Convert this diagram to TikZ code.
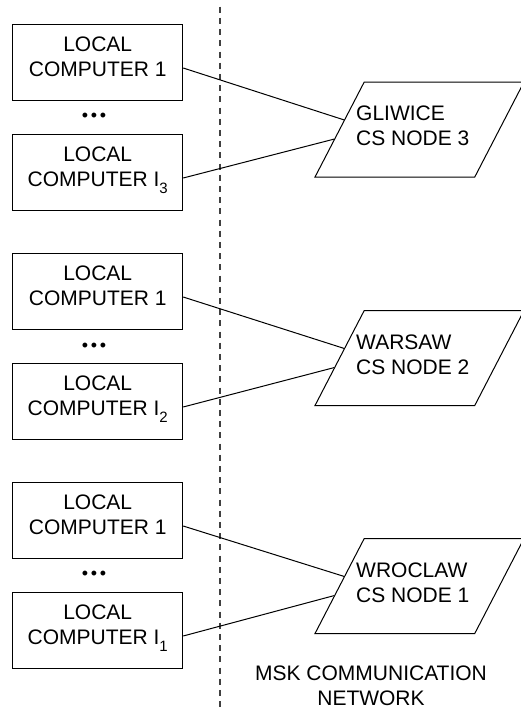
\documentclass[tikz,border=0pt]{standalone}
\usepackage{fontspec}
\setmainfont{Liberation Sans}
\usetikzlibrary{shapes.geometric,calc}

% extra depth below the last line so the two-line labels sit a little high in their boxes
\newcommand{\lowpad}{\rule[-11pt]{0pt}{11pt}}
\newcommand{\sub}[1]{\raisebox{-7pt}{\fontsize{15}{15}\selectfont #1}}

\begin{document}
\begin{tikzpicture}[x=1pt,y=-1pt,
  every node/.style={font=\fontsize{21}{25}\selectfont},
  pc/.style={draw, line width=1pt, minimum width=170pt, minimum height=76pt,
    inner sep=0pt, align=center},
  csnode/.style={draw, line width=1pt, trapezium, trapezium left angle=66,
    trapezium right angle=114, trapezium stretches=true,
    minimum width=209pt, minimum height=95pt, inner sep=2pt},
  cslabel/.style={anchor=west, align=left, inner sep=0pt},
  dots/.style={inner sep=0pt, font=\fontsize{18}{18}\selectfont},
  link/.style={line width=1pt},
  boundary/.style={line width=1.3pt, draw=black!75, dash pattern=on 6pt off 5.2pt}
]
\useasboundingbox (0,0) rectangle (520,710);

% network boundary
\coordinate (bndtop) at (220,6.7);
\coordinate (bndbot) at (220,710);
\draw[boundary] (bndtop) -- (bndbot);

% Gliwice
\node[pc] (a3) at (97.7,62)  {LOCAL\\COMPUTER 1\lowpad};
\node[dots] (d3) at (94,117) {•\kern2.7pt•\kern2.7pt•};
\node[pc] (b3) at (97.7,172) {LOCAL\\COMPUTER I\sub{3}\lowpad};
\node[csnode] (n3) at (419.5,129.5) {};
\node[cslabel] (t3) at (356,126) {GLIWICE\\CS NODE 3};
\draw[link] ([yshift=-6pt]a3.east) -- ($(n3.bottom left corner)!0.6!(n3.top left corner)$);
\draw[link] ([yshift=-6pt]b3.east) -- ($(n3.bottom left corner)!0.4!(n3.top left corner)$);

% Warsaw
\node[pc] (a2) at (97.7,291) {LOCAL\\COMPUTER 1\lowpad};
\node[dots] (d2) at (94,347) {•\kern2.7pt•\kern2.7pt•};
\node[pc] (b2) at (97.7,401) {LOCAL\\COMPUTER I\sub{2}\lowpad};
\node[csnode] (n2) at (419.5,358) {};
\node[cslabel] (t2) at (356,354.5) {WARSAW\\CS NODE 2};
\draw[link] ([yshift=-6pt]a2.east) -- ($(n2.bottom left corner)!0.6!(n2.top left corner)$);
\draw[link] ([yshift=-6pt]b2.east) -- ($(n2.bottom left corner)!0.4!(n2.top left corner)$);

% Wroclaw
\node[pc] (a1) at (97.7,520) {LOCAL\\COMPUTER 1\lowpad};
\node[dots] (d1) at (94,575) {•\kern2.7pt•\kern2.7pt•};
\node[pc] (b1) at (97.7,630) {LOCAL\\COMPUTER I\sub{1}\lowpad};
\node[csnode] (n1) at (419.5,586) {};
\node[cslabel] (t1) at (356,582.5) {WROCLAW\\CS NODE 1};
\draw[link] ([yshift=-6pt]a1.east) -- ($(n1.bottom left corner)!0.6!(n1.top left corner)$);
\draw[link] ([yshift=-6pt]b1.east) -- ($(n1.bottom left corner)!0.4!(n1.top left corner)$);

% network caption
\node[align=center, inner sep=0pt] (msk) at (371,686) {MSK COMMUNICATION\\NETWORK};
\end{tikzpicture}
\end{document}
